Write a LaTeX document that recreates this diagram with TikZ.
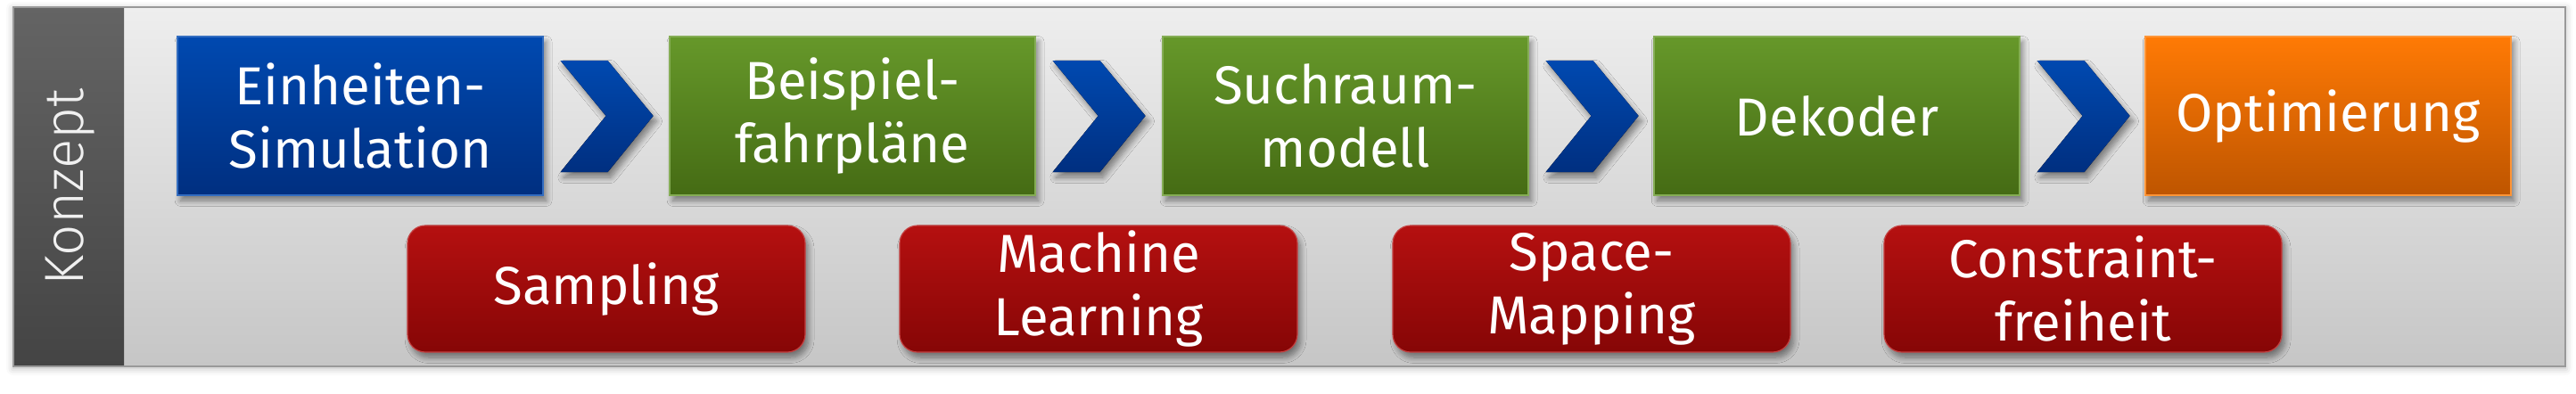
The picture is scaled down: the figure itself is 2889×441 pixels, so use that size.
\documentclass[tikz,border=0pt]{standalone}
\usepackage{fontspec}
\setmainfont{Fira Sans}
\newfontfamily\konzfont{Fira Sans Light}
\usetikzlibrary{shadows,shadows.blur,calc}
\definecolor{blueT}{HTML}{0049B0}
\definecolor{blueB}{HTML}{002F80}
\definecolor{greenT}{HTML}{66982A}
\definecolor{greenB}{HTML}{456B14}
\definecolor{orangeT}{HTML}{FF7A05}
\definecolor{orangeB}{HTML}{BE5500}
\definecolor{redT}{HTML}{B51010}
\definecolor{redB}{HTML}{860606}
\definecolor{bgT}{HTML}{EEEEEE}
\definecolor{bgB}{HTML}{C6C6C6}
\definecolor{bandT}{HTML}{646464}
\definecolor{bandB}{HTML}{444444}
\tikzset{
  shad/.style={blur shadow={shadow xshift=0.9pt,shadow yshift=-1.5pt,shadow blur radius=1.6pt,shadow opacity=45,shadow blur steps=8}},
  boxtext/.style={text=white,align=center,font=\fontsize{15}{17.7}\selectfont},
  topbox/.style={boxtext,rectangle,minimum width=102.5pt,minimum height=44.5pt,inner sep=0pt,shad},
  bluebox/.style={topbox,top color=blueT,bottom color=blueB,draw=blueT!80!white,line width=0.3pt},
  greenbox/.style={topbox,top color=greenT,bottom color=greenB,draw=greenT!80!white,line width=0.3pt},
  orangebox/.style={topbox,top color=orangeT,bottom color=orangeB,draw=orangeT!80!white,line width=0.3pt},
  redbox/.style={boxtext,rectangle,rounded corners=5pt,minimum width=111.5pt,minimum height=35.5pt,inner sep=0pt,
    top color=redT,bottom color=redB,draw=redT!80!white,line width=0.3pt,shad},
  chev/.style={top color=blueT,bottom color=blueB,shad},
}
\begin{document}
\begin{tikzpicture}[x=0.25pt,y=-0.25pt]
\useasboundingbox (0,0) rectangle (2889,441);
% frame
\fill[black,opacity=0.12,blur shadow={shadow xshift=0pt,shadow yshift=-0.5pt,shadow blur radius=2pt,shadow opacity=30}] (15,8) rectangle (2877,411);
\shade[top color=bgT,bottom color=bgB] (15,8) rectangle (2877,411);
\shade[top color=bandT,bottom color=bandB] (15,8) rectangle (139,411);
\draw[gray!80,line width=0.5pt] (15,8) rectangle (2877,411);
\node[rotate=90,text=white!94!black,font=\konzfont\fontsize{15.5}{18}\selectfont] (konzept) at (79,210) {Konzept};
% top row
\node[bluebox] (b1) at (404,130) {Einheiten-\\Simulation};
\node[greenbox] (b2) at (956,130) {Beispiel-\\fahrpläne};
\node[greenbox] (b3) at (1509,130) {Suchraum-\\modell};
\node[greenbox] (b4) at (2060,130) {Dekoder};
\node[orangebox] (b5) at (2611,130) {Optimierung};
% chevrons
\foreach \a in {b1,b2,b3,b4}{
  \fill[chev] ($(\a.east)+(19,-62)$) -- ($(\a.east)+(72,-62)$) -- ($(\a.east)+(123,0)$)
    -- ($(\a.east)+(72,63)$) -- ($(\a.east)+(19,63)$) -- ($(\a.east)+(70,0)$) -- cycle;
}
% bottom row
\node[redbox] (r1) at (680,324) {Sampling};
\node[redbox] (r2) at (1232,324) {Machine\\Learning};
\node[redbox] (r3) at (1785,324) {Space-\\Mapping};
\node[redbox] (r4) at (2336,324) {Constraint-\\freiheit};
\end{tikzpicture}
\end{document}
